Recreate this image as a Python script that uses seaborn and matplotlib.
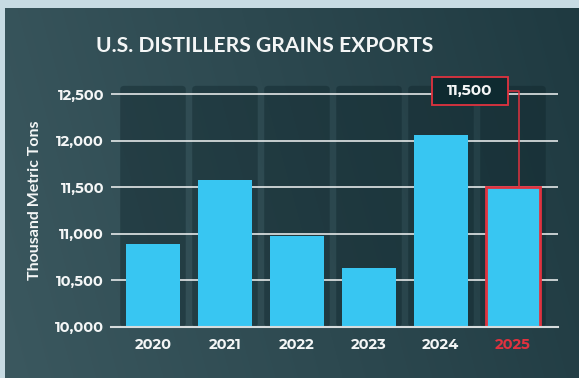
import numpy as np
import pandas as pd
import matplotlib
matplotlib.use("Agg")
import matplotlib.pyplot as plt
from matplotlib import font_manager as fm
from matplotlib.patches import Rectangle, FancyBboxPatch
import seaborn as sns

years = ["2020", "2021", "2022", "2023", "2024", "2025"]
exports = [10890, 11580, 10975, 10630, 12060, 11500]
yticks = [10000, 10500, 11000, 11500, 12000, 12500]
highlight_year = "2025"

TITLE = "U.S. DISTILLERS GRAINS EXPORTS"
YLABEL = "Thousand Metric Tons"

BAR_BLUE = "#38c6f2"
RED = "#e0323f"
WHITE = "#f4f6f6"

sns.set_theme(style="white")
plt.rcParams["font.family"] = ["Lato", "DejaVu Sans"]


def font_file(stem):
    for f in fm.findSystemFonts():
        if f.split("/")[-1] == stem:
            return fm.FontProperties(fname=f)
    return fm.FontProperties(family=["Lato", "DejaVu Sans"], weight="bold")


def with_size(fp, size):
    fp = fp.copy()
    fp.set_size(size)
    return fp


# geometric bold face for the numerals, Lato for words
F_NUM = font_file("MontserratAlternates-Bold.ttf")
F_WORD = fm.FontProperties(family=["Lato", "DejaVu Sans"], weight="bold")

W, H = 579, 378
fig = plt.figure(figsize=(W / 100, H / 100), dpi=100, facecolor="#c7dbe3")

# dark panel with a soft horizontal gradient
bg = fig.add_axes([5 / W, 0, 1 - 5 / W, 1 - 8 / H])
grad_x = np.linspace(0, 1, 256)
grad_y = np.linspace(0, 1, 128)[:, None]
left_c = np.array([0x3b, 0x58, 0x5f]) / 255
right_c = np.array([0x1f, 0x3a, 0x41]) / 255
mix = (grad_x[None, :] * 0.85 + (1 - grad_y) * 0.15)
img = left_c[None, None, :] * (1 - mix[..., None]) + right_c[None, None, :] * mix[..., None]
bg.imshow(img, aspect="auto", extent=[0, 1, 0, 1], interpolation="bilinear")
bg.set_axis_off()

ax = fig.add_axes([111 / W, 1 - 326.7 / H, (558 - 111) / W, (326.7 - 75.6) / H])
ax.patch.set_alpha(0)

df = pd.DataFrame({"year": years, "exports": exports})

# shaded columns behind each bar
col_top = 12590
for i in range(len(years)):
    ax.add_patch(FancyBboxPatch((i - 0.455, 10000), 0.91, col_top - 10000,
                                boxstyle="round,pad=0,rounding_size=0.06",
                                mutation_aspect=600,
                                facecolor="#0c2228", alpha=0.38,
                                edgecolor="none", zorder=0))

for t in yticks[1:]:
    ax.axhline(t, color=WHITE, lw=1.1, zorder=1)

sns.barplot(data=df, x="year", y="exports", color=BAR_BLUE, width=0.75,
            saturation=1, ax=ax, zorder=3, linewidth=0, edgecolor="none")

hi = years.index(highlight_year)
bars = [p for p in ax.patches if type(p) is Rectangle]
bars[hi].set_edgecolor(RED)
bars[hi].set_linewidth(2)

ax.set_ylim(10000, 12700)
ax.set_xlim(-0.583, 5.625)
ax.set_yticks(yticks)
ax.set_yticklabels([f"{v:,}" for v in yticks])
ax.tick_params(axis="y", length=0, pad=5, colors=WHITE)
ax.tick_params(axis="x", length=0, pad=8, colors=WHITE)
for lbl in ax.get_yticklabels() + ax.get_xticklabels():
    lbl.set_fontproperties(with_size(F_NUM, 10.5))
ax.get_xticklabels()[hi].set_color(RED)

ax.set_xlabel("")
ax.set_ylabel(YLABEL, color=WHITE, fontproperties=with_size(F_WORD, 11.5))
ax.yaxis.set_label_coords(-0.155, 0.505)
for s in ["top", "right", "left"]:
    ax.spines[s].set_visible(False)
ax.spines["bottom"].set_color("#d6dcdd")
ax.spines["bottom"].set_linewidth(1.5)
ax.spines["bottom"].set_zorder(4)

# value callout for the highlighted year
val = exports[hi]
box_cx, box_cy = 4.40, 12537
box_w, box_h = 1.056, 300
ax.add_patch(Rectangle((box_cx - box_w / 2, box_cy - box_h / 2), box_w, box_h,
                       facecolor="#0e2a30", edgecolor=RED, lw=1.3,
                       zorder=6, clip_on=False))
ax.text(box_cx, box_cy, f"{val:,}", color=WHITE, fontproperties=with_size(F_NUM, 11),
        ha="center", va="center", zorder=7, clip_on=False)
conn_x = hi + 0.08
ax.plot([box_cx + box_w / 2, conn_x, conn_x], [box_cy, box_cy, val],
        color=RED, lw=1.1, zorder=5, clip_on=False)

fig.text(265 / W, 1 - 46 / H, TITLE, color=WHITE, fontproperties=with_size(F_WORD, 15.2),
         ha="center", va="center")

fig.savefig("out.png", dpi=100, facecolor=fig.get_facecolor())
